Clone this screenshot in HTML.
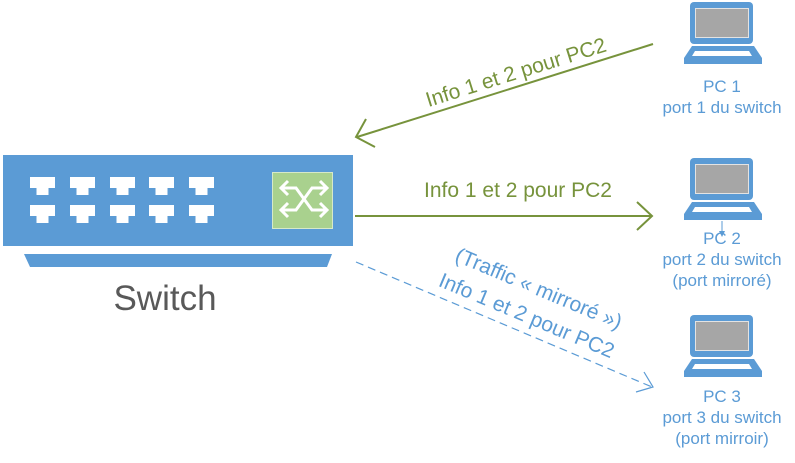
<!DOCTYPE html>
<html>
<head>
<meta charset="utf-8">
<style>
html,body{margin:0;padding:0;background:#fff;}
svg{display:block;}
text{font-family:"Liberation Sans",sans-serif;}
</style>
</head>
<body>
<svg width="795" height="463" viewBox="0 0 795 463" xmlns="http://www.w3.org/2000/svg">
  <!-- Switch body -->
  <rect x="3" y="155" width="350" height="91" fill="#5b9bd5"/>
  <polygon points="24,254 332,254 327,267 30,267" fill="#5b9bd5"/>
  <!-- ports row 1 -->
  <g fill="#ffffff">
    <g id="p">
      <rect x="30" y="177" width="25" height="11"/>
      <rect x="36.5" y="187" width="12" height="8"/>
    </g>
    <use href="#p" x="40"/>
    <use href="#p" x="80"/>
    <use href="#p" x="119"/>
    <use href="#p" x="159"/>
    <use href="#p" y="28"/>
    <use href="#p" x="40" y="28"/>
    <use href="#p" x="80" y="28"/>
    <use href="#p" x="119" y="28"/>
    <use href="#p" x="159" y="28"/>
  </g>
  <!-- green module -->
  <rect x="272.5" y="172.5" width="60" height="56" fill="#a9d18e" stroke="#d6e9c9" stroke-width="1"/>
  <g fill="none" stroke="#ffffff" stroke-width="3" stroke-linejoin="miter">
    <path d="M281,188 H296 L312,210 H327"/>
    <path d="M281,210 H296 L312,188 H327"/>
    <path d="M288,181 L281,188 L288,195"/>
    <path d="M288,203 L281,210 L288,217"/>
    <path d="M320,181 L327,188 L320,195"/>
    <path d="M320,203 L327,210 L320,217"/>
  </g>
  <text x="165" y="310" font-size="35" fill="#595959" text-anchor="middle">Switch</text>

  <!-- Laptops -->
  <g id="lap">
    <rect x="690" y="2" width="63" height="42" rx="4" fill="#5b9bd5"/>
    <rect x="695.5" y="8.5" width="53" height="29" fill="#a6a6a6" stroke="#e3e3e3" stroke-width="1"/>
    <polygon points="692,46 754,46 762,58 762,64 684,64 684,58" fill="#5b9bd5"/>
    <polygon points="695,51 749,51 752,56 692,56" fill="#ffffff"/>
  </g>
  <use href="#lap" y="156"/>
  <use href="#lap" y="313"/>

  <!-- PC labels -->
  <g fill="#5b9bd5" font-size="17" text-anchor="middle">
    <text x="722" y="92">PC 1</text>
    <text x="722" y="113">port 1 du switch</text>
    <text x="722" y="244">PC 2</text>
    <text x="722" y="265">port 2 du switch</text>
    <text x="722" y="286">(port mirroré)</text>
    <text x="722" y="402">PC 3</text>
    <text x="722" y="423">port 3 du switch</text>
    <text x="722" y="444">(port mirroir)</text>
  </g>
  <!-- small arrow under PC2 -->
  <line x1="722" y1="221" x2="722" y2="234" stroke="#5b9bd5" stroke-width="1"/>
  <polygon points="719,231 725,231 722,237" fill="#5b9bd5"/>

  <!-- Green arrow from PC1 to switch -->
  <g stroke="#77933c" stroke-width="2" fill="none">
    <line x1="653" y1="44" x2="357" y2="137"/>
    <polyline points="366,119 356,137 375,147"/>
    <line x1="355" y1="216" x2="652" y2="216"/>
    <polyline points="637,202 652,216 637,230"/>
  </g>
  <text x="518" y="79" font-size="21" fill="#77933c" text-anchor="middle" transform="rotate(-17.4 518 79)">Info 1 et 2 pour PC2</text>
  <text x="518" y="197" font-size="21" fill="#77933c" text-anchor="middle">Info 1 et 2 pour PC2</text>

  <!-- Dashed blue arrow -->
  <g stroke="#5b9bd5" stroke-width="1.2" fill="none">
    <line x1="356" y1="262" x2="652" y2="387" stroke-dasharray="8 5"/>
    <polyline points="644,372 653,387 636,392"/>
  </g>
  <g fill="#5b9bd5" font-size="21" text-anchor="middle">
    <text x="536" y="295" transform="rotate(22.8 536 295)">(Traffic « mirroré »)</text>
    <text x="524" y="322" transform="rotate(22.8 524 322)">Info 1 et 2 pour PC2</text>
  </g>
</svg>
</body>
</html>
